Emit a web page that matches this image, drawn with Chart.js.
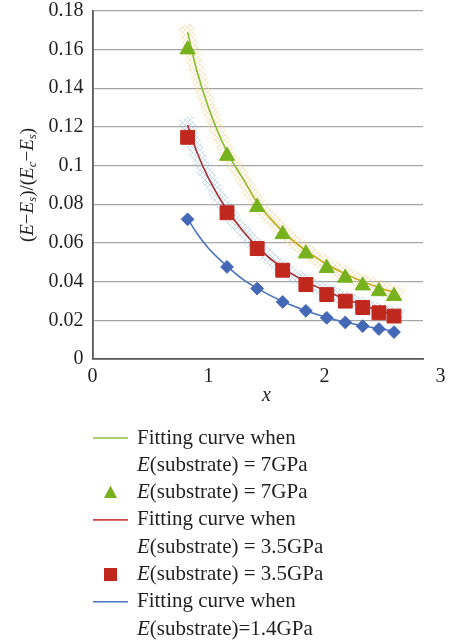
<!DOCTYPE html>
<html><head><meta charset="utf-8">
<script src="https://cdn.jsdelivr.net/npm/chart.js@4/dist/chart.umd.min.js"></script>
<style>html,body{margin:0;padding:0;background:#fff;}canvas{display:block;}</style>
</head><body>
<canvas id="c" width="449" height="643"></canvas>
<script>
// ---- data ----
const xValues   = [0.82, 1.16, 1.42, 1.64, 1.84, 2.02, 2.18, 2.33, 2.47, 2.60];
const y7GPa     = [0.160, 0.105, 0.0785, 0.0645, 0.0545, 0.047, 0.042, 0.038, 0.035, 0.0325];
const y35GPa    = [0.1146, 0.0756, 0.0571, 0.0459, 0.0385, 0.0333, 0.0299, 0.0266, 0.0239, 0.0222];
const y14GPa    = [0.0722, 0.0476, 0.0364, 0.0295, 0.0249, 0.0213, 0.0189, 0.0170, 0.0155, 0.0139];
// fitting curves
const xFit      = [0.82, 0.90, 1.00, 1.16, 1.30, 1.42, 1.64, 1.84, 2.02, 2.18, 2.33, 2.47, 2.62];
const fit7GPa   = [0.169, 0.149, 0.130, 0.107, 0.093, 0.081, 0.066, 0.056, 0.049, 0.044, 0.040, 0.037, 0.034];
const fit35GPa  = [0.121, 0.107, 0.0935, 0.077, 0.066, 0.058, 0.047, 0.040, 0.035, 0.031, 0.028, 0.025, 0.023];
const fit14GPa  = [0.0725, 0.065, 0.0573, 0.048, 0.041, 0.0365, 0.0297, 0.025, 0.0215, 0.019, 0.0172, 0.0157, 0.0142];
const xTicks    = [0, 1, 2, 3];
const yTicks    = [0, 0.02, 0.04, 0.06, 0.08, 0.1, 0.12, 0.14, 0.16, 0.18];
const labels = {
  fit7: 'Fitting curve when\nE(substrate) = 7GPa',
  pts7: 'E(substrate) = 7GPa',
  fit35: 'Fitting curve when\nE(substrate) = 3.5GPa',
  pts35: 'E(substrate) = 3.5GPa',
  fit14: 'Fitting curve when\nE(substrate)=1.4GPa',
  pts14: 'E(substrate)=1.4GPa'
};

const FONT = "'Liberation Serif', 'Times New Roman', serif";
const pts = (xs, ys) => xs.map((x, i) => ({x, y: ys[i]}));

const canvas = document.getElementById('c');
const mainCtx = canvas.getContext('2d');
function hatch(color) {
  const t = document.createElement('canvas');
  t.width = 5; t.height = 5;
  const g = t.getContext('2d');
  g.strokeStyle = color; g.lineWidth = 1;
  g.beginPath();
  g.moveTo(0, 0); g.lineTo(5, 5);
  g.moveTo(5, 0); g.lineTo(0, 5);
  g.stroke();
  return mainCtx.createPattern(t, 'repeat');
}

function greenGold(context) {
  const chart = context.chart;
  const xs = chart.scales.x;
  if (!xs || !chart.chartArea) return '#84BC2A';
  const g = chart.ctx.createLinearGradient(xs.getPixelForValue(1.25), 0, xs.getPixelForValue(1.6), 0);
  g.addColorStop(0, '#84BC2A');
  g.addColorStop(1, '#C4A812');
  return g;
}

const lineDs = (label, ys, color, legendColor) => ({
  label, data: pts(xFit, ys), showLine: true, borderColor: color, borderWidth: 1.6,
  pointRadius: 0, cubicInterpolationMode: 'monotone', order: 5, _kind: 'line', _legendColor: legendColor
});
const bandDs = (ys, pattern) => ({
  label: '', data: pts(xFit, ys), showLine: true, borderColor: pattern, borderWidth: 15,
  borderCapStyle: 'square', pointRadius: 0, cubicInterpolationMode: 'monotone', order: 10, _kind: 'band'
});
const markDs = (label, ys, color, style, r) => ({
  label, data: pts(xValues, ys), showLine: false, backgroundColor: color, borderColor: color, borderWidth: 1,
  pointStyle: style, pointRadius: r, pointHoverRadius: r, order: 1, _kind: 'mark'
});

const datasets = [
  lineDs(labels.fit7, fit7GPa, greenGold, '#8CC33A'),
  markDs(labels.pts7, y7GPa, '#77B21E', 'triangle', 8.8),
  lineDs(labels.fit35, fit35GPa, '#A53030', '#CF4444'),
  markDs(labels.pts35, y35GPa, '#C0271D', 'rect', 9.8),
  lineDs(labels.fit14, fit14GPa, '#4A72C2', '#4A72C2'),
  markDs(labels.pts14, y14GPa, '#4468B6', 'rectRot', 6.4),
  bandDs(fit7GPa, hatch('rgba(250,210,140,0.55)')),
  bandDs(fit35GPa, hatch('rgba(160,195,235,0.55)'))
];

function drawRich(ctx, parts, x, y, size) {
  let cx = x;
  for (const [t, it, sub] of parts) {
    const fs = sub ? size * 0.68 : size;
    ctx.font = (it ? 'italic ' : '') + fs + 'px ' + FONT;
    ctx.fillText(t, cx, sub ? y + size * 0.25 : y);
    cx += ctx.measureText(t).width;
  }
  return cx - x;
}
function richWidth(ctx, parts, size) {
  let w = 0;
  for (const [t, it, sub] of parts) {
    const fs = sub ? size * 0.68 : size;
    ctx.font = (it ? 'italic ' : '') + fs + 'px ' + FONT;
    w += ctx.measureText(t).width;
  }
  return w;
}
function lineParts(line) {
  if (line.startsWith('E(')) return [['E', true], [line.slice(1), false]];
  return [[line, false]];
}

const overlay = {
  id: 'overlay',
  afterDraw(chart) {
    const ctx = chart.ctx;
    const xs = chart.scales.x;
    ctx.save();
    ctx.fillStyle = '#231F20';
    ctx.textBaseline = 'middle';
    // y-axis title
    const yParts = [['(', false], ['E', true], ['\u2212', false], ['E', true], ['s', true, true],
      [')/(', false], ['E', true], ['c', true, true], ['\u2212', false], ['E', true], ['s', true, true], [')', false]];
    const ys = 19;
    const w = richWidth(ctx, yParts, ys);
    ctx.translate(28, 185);
    ctx.rotate(-Math.PI / 2);
    drawRich(ctx, yParts, -w / 2, 0, ys);
    ctx.setTransform(1, 0, 0, 1, 0, 0);
    // x-axis title, centred on the 0..3 tick range
    const xc = (xs.getPixelForValue(xTicks[0]) + xs.getPixelForValue(xTicks[xTicks.length - 1])) / 2;
    ctx.font = 'italic 20px ' + FONT;
    ctx.textAlign = 'center';
    ctx.fillText('x', xc, 396);
    ctx.textAlign = 'left';
    // legend
    const order = [0, 1, 2, 3, 4, 5];
    let ly = 438;
    const step = 27.3;
    for (const di of order) {
      const ds = chart.data.datasets[di];
      const lines = ds.label.split('\n');
      if (ds._kind === 'line') {
        ctx.strokeStyle = ds._legendColor;
        ctx.lineWidth = 1.6;
        ctx.beginPath(); ctx.moveTo(93, ly); ctx.lineTo(128, ly); ctx.stroke();
      } else {
        ctx.fillStyle = ds.backgroundColor;
        if (ds.pointStyle === 'triangle') {
          ctx.beginPath(); ctx.moveTo(110.5, ly - 7); ctx.lineTo(117, ly + 5.5); ctx.lineTo(104, ly + 5.5); ctx.closePath(); ctx.fill();
        } else if (ds.pointStyle === 'rect') {
          ctx.fillRect(104, ly - 6.5, 13, 13);
        } else {
          ctx.beginPath(); ctx.moveTo(110.5, ly - 7); ctx.lineTo(117.5, ly); ctx.lineTo(110.5, ly + 7); ctx.lineTo(103.5, ly); ctx.closePath(); ctx.fill();
        }
      }
      ctx.fillStyle = '#231F20';
      for (const ln of lines) {
        drawRich(ctx, lineParts(ln), 137, ly, 21);
        ly += step;
      }
    }
    ctx.restore();
  }
};

new Chart(canvas, {
  type: 'scatter',
  data: { datasets },
  options: {
    responsive: false,
    animation: false,
    events: [],
    layout: { padding: { left: 0, top: 10, right: 26, bottom: 254 } },
    plugins: { legend: { display: false }, tooltip: { enabled: false }, title: { display: false } },
    scales: {
      x: {
        type: 'linear', min: 0, max: 2.85,
        afterBuildTicks: (s) => { s.ticks = xTicks.map(v => ({ value: v })); },
        afterFit: (s) => { s.height = 30; s.paddingLeft = 0; s.paddingRight = 0; },
        ticks: { autoSkip: false, maxRotation: 0, padding: 6, color: '#231F20', font: { family: FONT, size: 20 }, callback: (v) => String(v) },
        grid: { display: false, drawTicks: false },
        border: { display: true, color: '#595959', width: 1.8 }
      },
      y: {
        type: 'linear', min: 0, max: 0.18,
        afterBuildTicks: (s) => { s.ticks = yTicks.map(v => ({ value: v })); },
        afterFit: (s) => { s.width = 92.5; s.paddingTop = 0; s.paddingBottom = 0; },
        ticks: { padding: 9, color: '#231F20', font: { family: FONT, size: 20 }, callback: (v) => String(+v.toFixed(2)) },
        grid: { color: '#A6A6A6', lineWidth: 1.3, drawTicks: false },
        border: { display: true, color: '#595959', width: 1.8 }
      }
    }
  },
  plugins: [overlay]
});
</script>
</body></html>
